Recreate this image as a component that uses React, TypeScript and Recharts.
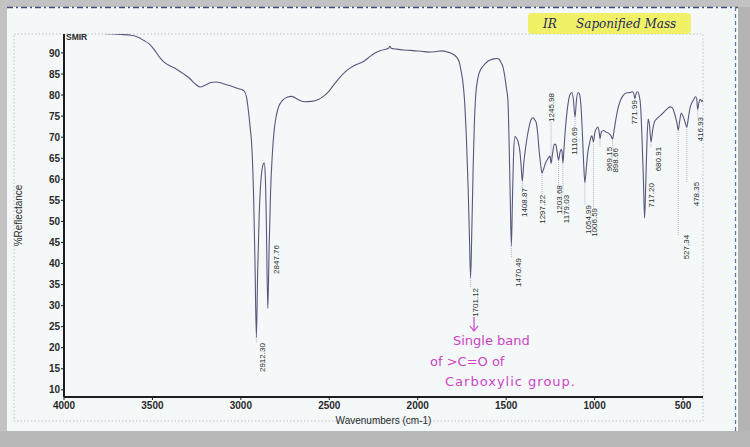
import React from 'react';
import { LineChart, Line, XAxis, YAxis, ReferenceLine, ReferenceDot } from 'recharts';

// Spectrum: wavenumber (cm-1) and %Reflectance
const wavenumbers = [
  4000, 3920, 3840, 3760, 3680, 3620, 3580, 3550, 3520, 3490, 3460, 3436, 3400, 3370, 3330, 3290, 3260, 3230,
  3200, 3170, 3140, 3100, 3060, 3020, 2995, 2980, 2968, 2958, 2948, 2937, 2928, 2920, 2912.3, 2905, 2896, 2886,
  2876, 2868, 2862, 2856, 2847.76, 2840, 2832, 2822, 2812, 2800, 2785, 2767, 2740, 2711, 2680, 2643, 2600, 2564,
  2530, 2500, 2479, 2440, 2410, 2383, 2350, 2309, 2280, 2242, 2210, 2180, 2165, 2157, 2150, 2120, 2080, 2040,
  2015, 1980, 1940, 1900, 1863, 1830, 1800, 1780, 1765, 1755, 1744, 1735, 1725, 1715, 1708, 1701.12, 1694, 1687,
  1680, 1672, 1660, 1645, 1630, 1610, 1590, 1570, 1552, 1540, 1530, 1518, 1508, 1498, 1490, 1483, 1477, 1470.49,
  1464, 1458, 1450, 1442, 1433, 1422, 1415, 1408.87, 1400, 1390, 1382, 1370, 1360, 1348, 1340, 1331, 1322, 1314,
  1305, 1297.22, 1288, 1278, 1265, 1252, 1245.98, 1238, 1228, 1220, 1212, 1203.68, 1195, 1188, 1184, 1179.03,
  1172, 1165, 1156, 1148, 1138, 1128, 1120, 1110.69, 1102, 1094, 1086, 1078, 1070, 1062, 1054.99, 1046, 1038,
  1030, 1022, 1015, 1006.59, 998, 990, 982, 975, 969.15, 962, 950, 935, 920, 908, 898.66, 890, 880, 868, 855,
  840, 822, 800, 785, 777, 771.99, 765, 757, 748, 740, 732, 724, 717.2, 710, 703, 697, 690, 680.91, 672, 662,
  650, 635, 618, 600, 585, 570, 558, 545, 535, 527.34, 520, 510, 500, 490, 478.35, 470, 460, 450, 440, 430, 423,
  416.93, 410, 402, 395, 387,
];
const reflectance = [
  94.6, 94.7, 94.7, 94.6, 94.4, 94.2, 93.7, 93.0, 92.2, 90.8, 89.0, 87.9, 86.9, 86.3, 85.2, 84.0, 82.7, 81.9,
  82.4, 83.0, 83.1, 82.7, 82.2, 81.6, 81.3, 80.9, 79.5, 76.5, 72.5, 67.0, 56, 40, 22.5, 38, 52, 60,
  63.3, 63.9, 61, 50, 29.4, 44, 57, 66, 71.5, 75, 77.4, 78.6, 79.5, 79.7, 79.0, 78.4, 78.5, 78.9,
  79.8, 81.0, 82.2, 84.2, 85.5, 86.4, 87.2, 87.9, 88.8, 90.0, 90.6, 90.9, 91.1, 91.6, 91.1, 90.9, 90.7, 90.6,
  90.5, 90.4, 90.2, 90.3, 90.5, 90.2, 89.7, 89.0, 87.8, 85.8, 82.9, 78.5, 70, 58, 47, 36.6, 48, 62,
  73, 80, 84, 86, 86.9, 87.8, 88.3, 88.6, 88.7, 88.5, 87.8, 86.7, 84.5, 81.5, 78.8, 68, 56, 44.2,
  56, 66, 70.2, 69.8, 69.0, 66.5, 63, 59.6, 64, 67.5, 69.8, 72.5, 74.1, 74.6, 74.2, 73.6, 71, 67,
  63.5, 61.5, 62.5, 63.8, 64.8, 65.5, 63.8, 66, 68.3, 68.3, 66.5, 64.6, 66.5, 67.1, 66.5, 63.9,
  68, 72, 76, 78.5, 80.2, 80.6, 79, 74.8, 79, 80.6, 80.3, 78, 72, 64, 59.2, 63, 66.5,
  68.2, 69.8, 70.3, 68.9, 71.2, 72.0, 72.4, 71.5, 69.7, 71.2, 71.6, 71.2, 70.9, 70.4, 69.6, 71.5, 74.2, 76.8, 78.6,
  79.8, 80.5, 80.6, 80.8, 80.1, 79.2, 80.4, 80.8, 79.9, 77.5, 70, 60, 50.8, 60, 70, 74.3, 73, 68.9, 71.5, 73.6,
  74.3, 74.9, 75.5, 76.3, 76.9, 77.2, 76.8, 75.2, 73.5, 71.7, 73.5, 75.7, 75.0, 73.8, 72.4, 74.5, 77.0, 78.2, 78.9, 79.6, 79.2,
  76.6, 78.2, 79.0, 78.5, 78.8,
];

// Peak annotations
const peakWavenumbers = [
  2912.3, 2847.76, 1701.12, 1470.49, 1408.87, 1297.22, 1245.98, 1203.68, 1179.03, 1110.69,
  1054.99, 1006.59, 969.15, 898.66, 771.99, 717.2, 680.91, 527.34, 478.35, 416.93,
];
// %R level at which each rotated label's top end sits
const peakLabelLevels = [
  21.1, 44.4, 34.2, 41.3, 57.9, 56.3, 80.5, 58.6, 56.3, 72.4,
  53.9, 53.2, 67.7, 67.4, 78.8, 59.1, 67.7, 46.8, 59.4, 74.8,
];
// small horizontal nudges (px) of each label relative to its peak
const peakLabelNudge = [6, 8, 5, 7, 2, 0, 0, 1, 3, -1, 3, 1, 9, 3, -1, 7, 7, 8, 9, 2];

const xTicks = [4000, 3500, 3000, 2500, 2000, 1500, 1000, 500];
const yTicks = [10, 15, 20, 25, 30, 35, 40, 45, 50, 55, 60, 65, 70, 75, 80, 85, 90];

const spectrum = wavenumbers.map((wn, i) => ({ wn, r: reflectance[i] }));
const dipOf = (wn: number) => {
  const p = spectrum.find((s) => s.wn === wn);
  return p ? p.r : 50;
};

const LABEL_SPAN = 6.9; // label length in %R units

const tickStyle = { fontFamily: 'Liberation Sans, Arial, sans-serif', fontSize: 10, fontWeight: 700, fill: '#2a2a2a' };

export default function App() {
  return (
    <div style={{ position: 'fixed', left: 0, top: 0, width: 750, height: 447, overflow: 'hidden', background: '#c2c2c2' }}>
      <svg width={750} height={447} style={{ position: 'absolute', left: 0, top: 0 }}>
        <rect x={7} y={7} width={731} height={424} fill="#f4f8f9" />
        <line x1={7} y1={7.5} x2={738} y2={7.5} stroke="#3e4c80" strokeWidth={1.5} strokeDasharray="6 3 2 3" />
        <line x1={735.5} y1={7} x2={735.5} y2={431} stroke="#5b74a8" strokeWidth={1.2} strokeDasharray="4 3" />
        <rect x={738} y={7} width={12} height={440} fill="#b4b4b4" />
        <rect x={0} y={431} width={750} height={16} fill="#b8b8b8" />
        <rect x={14} y={34} width={689} height={387} fill="none" stroke="#b5c2cc" strokeWidth={1} strokeDasharray="1.5 2" />
      </svg>
      <div style={{ position: 'absolute', left: 0, top: 0 }}>
        <LineChart width={750} height={447} data={spectrum} margin={{ top: 34, right: 47, bottom: 20, left: 14 }}>
          <XAxis
            dataKey="wn"
            type="number"
            domain={[387, 4000]}
            reversed
            allowDataOverflow
            ticks={xTicks}
            tickSize={3}
            tickMargin={2}
            height={30}
            axisLine={{ stroke: '#1e1e1e', strokeWidth: 2 }}
            tickLine={{ stroke: '#1e1e1e' }}
            tick={tickStyle}
            label={{
              content: (props: any) => {
                const vb = props.viewBox || { x: 64, y: 397, width: 639, height: 30 };
                return (
                  <text x={vb.x + vb.width / 2} y={vb.y + 27} textAnchor="middle" fontFamily="Liberation Sans, Arial, sans-serif" fontSize={10} fill="#2a2a2a">
                    Wavenumbers (cm-1)
                  </text>
                );
              },
            }}
          />
          <YAxis
            type="number"
            domain={[8.3, 94.5]}
            allowDataOverflow
            ticks={yTicks}
            width={50}
            tickSize={3}
            tickMargin={1}
            axisLine={{ stroke: '#1e1e1e', strokeWidth: 2 }}
            tickLine={{ stroke: '#1e1e1e' }}
            tick={tickStyle}
            label={{
              content: (props: any) => {
                const vb = props.viewBox || { x: 14, y: 34, width: 50, height: 363 };
                const x = vb.x + 8;
                const y = vb.y + vb.height / 2;
                return (
                  <text x={x} y={y} transform={`rotate(-90 ${x} ${y})`} textAnchor="middle" fontFamily="Liberation Sans, Arial, sans-serif" fontSize={10} fill="#2a2a2a">
                    %Reflectance
                  </text>
                );
              },
            }}
          />
          {peakWavenumbers.map((wn, i) => {
            const dip = dipOf(wn);
            const top = peakLabelLevels[i];
            const end = top > dip ? top - LABEL_SPAN : top;
            return (
              <ReferenceLine
                key={`seg-${wn}`}
                segment={[{ x: wn, y: dip }, { x: wn, y: end }]}
                stroke="#8f94ad"
                strokeWidth={0.7}
                strokeDasharray="1 1"
                ifOverflow="visible"
              />
            );
          })}
          <Line type="monotone" dataKey="r" stroke="#56587c" strokeWidth={1.1} dot={false} isAnimationActive={false} />
          {peakWavenumbers.map((wn, i) => (
            <ReferenceDot
              key={`lab-${wn}`}
              x={wn}
              y={peakLabelLevels[i]}
              r={0}
              ifOverflow="visible"
              shape={(p: any) => {
                const x = p.cx + peakLabelNudge[i] + 2.9;
                const y = p.cy;
                return (
                  <text x={x} y={y} transform={`rotate(-90 ${x} ${y})`} textAnchor="end" fontFamily="Liberation Sans, Arial, sans-serif" fontSize={8} fill="#2e2e2e">
                    {wn.toFixed(2)}
                  </text>
                );
              }}
            />
          ))}
        </LineChart>
      </div>
      <svg width={750} height={447} style={{ position: 'absolute', left: 0, top: 0, pointerEvents: 'none' }}>
        <text x={66} y={40} fontFamily="Liberation Sans, Arial, sans-serif" fontSize={8.5} fontWeight={700} fill="#2a2a2a">SMIR</text>
        <rect x={528} y={13} width={163} height={21} fill="#eef04e" opacity={0.85} rx={4} />
        <text x={543} y={28} fontFamily="DejaVu Serif, serif" fontStyle="italic" fontSize={12} fill="#1c2a5c">IR</text>
        <text x={576} y={28} fontFamily="DejaVu Serif, serif" fontStyle="italic" fontSize={12} fill="#1c2a5c">Saponified Mass</text>
        <line x1={474} y1={317} x2={474} y2={330} stroke="#cc44c4" strokeWidth={1.2} />
        <path d="M470 326 L474 331 L478 326" fill="none" stroke="#cc44c4" strokeWidth={1.2} />
        <text x={453} y={345} fontFamily="DejaVu Sans, sans-serif" fontSize={13} fill="#cc44c4">Single band</text>
        <text x={430} y={366} fontFamily="DejaVu Sans, sans-serif" fontSize={13} fill="#cc44c4">of &gt;C=O of</text>
        <text x={445} y={386} fontFamily="DejaVu Sans, sans-serif" fontSize={13} fill="#cc44c4" textLength={130}>Carboxylic group.</text>
      </svg>
    </div>
  );
}
